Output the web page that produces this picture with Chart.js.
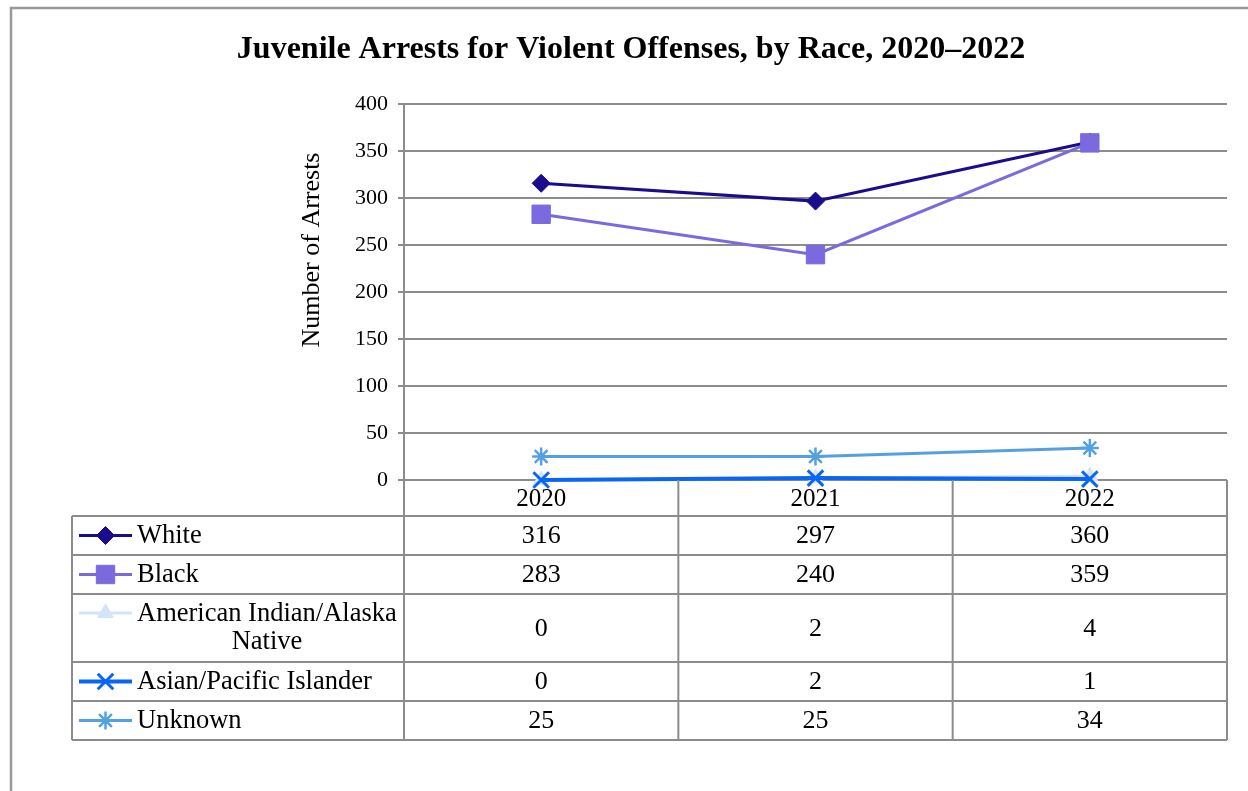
<!DOCTYPE html>
<html>
<head>
<meta charset="utf-8">
<title>Juvenile Arrests for Violent Offenses</title>
<script src="https://cdn.jsdelivr.net/npm/chart.js@4.4.1/dist/chart.umd.min.js"></script>
<style>
  html, body { margin: 0; padding: 0; background: #fff; }
  #wrap { width: 1248px; height: 791px; }
</style>
</head>
<body>
<div id="wrap"><canvas id="myChart" width="1248" height="791"></canvas></div>
<script>
// Arrest counts per year, one array per race group
const years = ['2020', '2021', '2022'];
const white = [316, 297, 360];
const black = [283, 240, 359];
const amIndian = [0, 2, 4];
const asian = [0, 2, 1];
const unknown = [25, 25, 34];

const seriesLabels = [
  ['White'],
  ['Black'],
  ['American Indian/Alaska', 'Native'],
  ['Asian/Pacific Islander'],
  ['Unknown']
];

const yMin = 0;
const yMax = 400;
const yStep = 50;
const yTitle = 'Number of Arrests';

const SERIF = "'Liberation Serif', 'Times New Roman', serif";
const GRID = '#8c8c8c';

const looks = [
  { color: '#1b0c8e', point: 'rectRot', radius: 9, pointWidth: 1, line: 3 },
  { color: '#7a69df', point: 'rect', radius: 13, pointWidth: 1, line: 3 },
  { color: '#d4e3f7', point: 'triangle', radius: 9, pointWidth: 1, line: 3 },
  { color: '#0a66f2', point: 'crossRot', radius: 11, pointWidth: 3, line: 4 },
  { color: '#55a0e0', point: 'star', radius: 9, pointWidth: 2.5, line: 3 }
];

const allSeries = [white, black, amIndian, asian, unknown];

const datasets = allSeries.map((values, i) => ({
  label: seriesLabels[i].join(' '),
  data: values,
  borderColor: looks[i].color,
  backgroundColor: looks[i].color,
  pointBorderColor: looks[i].color,
  pointBackgroundColor: looks[i].color,
  borderWidth: looks[i].line,
  pointStyle: looks[i].point,
  pointRadius: looks[i].radius,
  pointBorderWidth: looks[i].pointWidth,
  tension: 0,
  clip: false,
  // later series sit on top
  order: allSeries.length - i
}));

// frame around the whole chart + the vertical axis title
const framePlugin = {
  id: 'frame',
  beforeDraw(chart) {
    const ctx = chart.ctx;
    ctx.save();
    ctx.fillStyle = '#fff';
    ctx.fillRect(0, 0, chart.width, chart.height);
    ctx.strokeStyle = '#999';
    ctx.lineWidth = 2.5;
    ctx.beginPath();
    ctx.moveTo(11, chart.height + 2);
    ctx.lineTo(11, 8);
    ctx.lineTo(chart.width + 2, 8);
    ctx.stroke();

    ctx.translate(312, 250);
    ctx.rotate(-Math.PI / 2);
    ctx.fillStyle = '#000';
    ctx.font = '26px ' + SERIF;
    ctx.textAlign = 'center';
    ctx.textBaseline = 'middle';
    ctx.fillText(yTitle, 0, 0);
    ctx.restore();
  }
};

// data table under the plot, with legend keys in the first column
const tablePlugin = {
  id: 'dataTable',
  afterDraw(chart) {
    const ctx = chart.ctx;
    const area = chart.chartArea;
    const x = chart.scales.x;
    const tableLeft = 72;
    const headTop = area.bottom;
    const headBottom = headTop + 36;
    const rowHeights = [39, 39, 68, 39, 39];
    const step = x.getPixelForValue(1) - x.getPixelForValue(0);

    const rows = [];
    let top = headBottom;
    rowHeights.forEach(h => { rows.push({ top, bottom: top + h }); top += h; });
    const tableBottom = top;

    ctx.save();
    ctx.strokeStyle = GRID;
    ctx.lineWidth = 2;
    ctx.beginPath();
    // horizontal rules
    ctx.moveTo(tableLeft, headBottom);
    ctx.lineTo(area.right, headBottom);
    rows.forEach(r => {
      ctx.moveTo(tableLeft, r.bottom);
      ctx.lineTo(area.right, r.bottom);
    });
    // vertical rules
    ctx.moveTo(tableLeft, headBottom);
    ctx.lineTo(tableLeft, tableBottom);
    for (let i = 0; i <= years.length; i++) {
      const px = x.getPixelForValue(0) - step / 2 + i * step;
      ctx.moveTo(px, headTop);
      ctx.lineTo(px, tableBottom);
    }
    ctx.stroke();

    ctx.textBaseline = 'middle';

    rows.forEach((r, i) => {
      const mid = (r.top + r.bottom) / 2;
      // values
      ctx.font = '26px ' + SERIF;
      ctx.fillStyle = '#000';
      ctx.textAlign = 'center';
      allSeries[i].forEach((v, j) => {
        ctx.fillText(String(v), x.getPixelForValue(j), mid + 1);
      });

      // legend key
      const lines = seriesLabels[i];
      const keyY = lines.length > 1 ? r.top + 19 : mid;
      const lk = looks[i];
      ctx.strokeStyle = lk.color;
      ctx.fillStyle = lk.color;
      ctx.lineWidth = lk.line;
      ctx.beginPath();
      ctx.moveTo(79, keyY);
      ctx.lineTo(132, keyY);
      ctx.stroke();
      ctx.lineWidth = lk.pointWidth;
      Chart.helpers.drawPoint(ctx, {
        pointStyle: lk.point,
        radius: lk.radius,
        rotation: 0,
        borderWidth: lk.pointWidth
      }, 105.5, keyY);

      // series name
      ctx.font = '26.5px ' + SERIF;
      ctx.fillStyle = '#000';
      if (lines.length === 1) {
        ctx.textAlign = 'left';
        ctx.fillText(lines[0], 137, mid + 1);
      } else {
        ctx.textAlign = 'left';
        ctx.fillText(lines[0], 137, r.top + 20);
        ctx.textAlign = 'center';
        ctx.fillText(lines[1], 267, r.top + 48);
      }
    });
    ctx.restore();
  }
};

const config = {
  type: 'line',
  data: {
    labels: years,
    datasets: datasets
  },
  options: {
    responsive: false,
    animation: false,
    layout: {
      padding: { top: 0, left: 35, right: 21, bottom: 275 }
    },
    plugins: {
      legend: { display: false },
      tooltip: { enabled: false },
      title: {
        display: true,
        text: 'Juvenile Arrests for Violent Offenses, by Race, 2020\u20132022',
        color: '#000',
        font: { family: SERIF, size: 32, weight: 'bold' },
        padding: { top: 31, bottom: 35 }
      }
    },
    scales: {
      x: {
        type: 'category',
        offset: true,
        grid: { display: false, drawTicks: false },
        border: { display: false },
        ticks: {
          color: '#000',
          font: { family: SERIF, size: 25 },
          padding: 4
        },
        afterFit(scale) { scale.height = 36; }
      },
      y: {
        min: yMin,
        max: yMax,
        ticks: {
          stepSize: yStep,
          color: '#000',
          font: { family: SERIF, size: 22 },
          padding: 10
        },
        grid: {
          color: GRID,
          lineWidth: 2,
          tickLength: 6
        },
        border: { display: true, color: GRID, width: 2 },
        afterFit(scale) { scale.width = 369; }
      }
    }
  },
  plugins: [framePlugin, tablePlugin]
};

const myChart = new Chart(
  document.getElementById('myChart').getContext('2d'),
  config
);
</script>
</body>
</html>
